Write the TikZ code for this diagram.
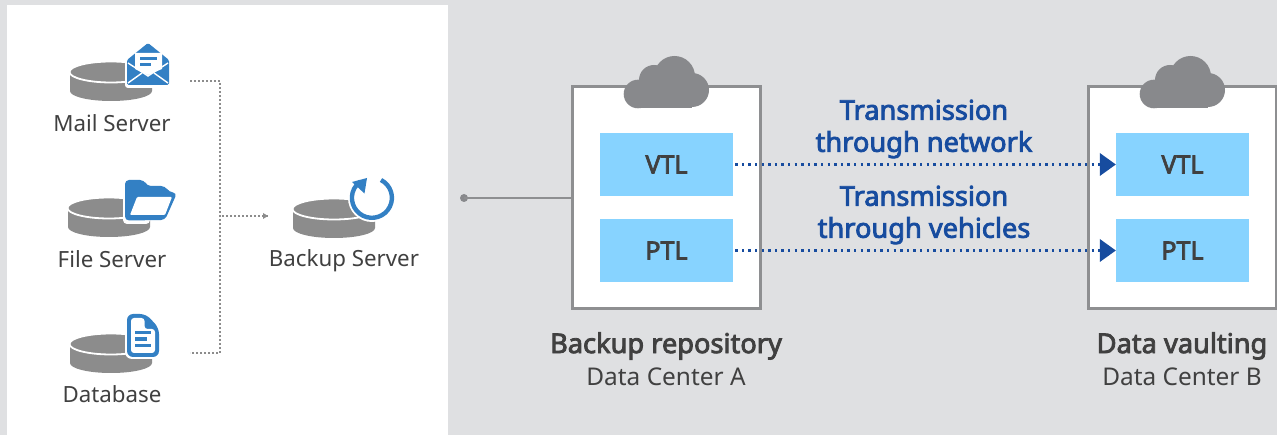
\documentclass[tikz,border=0pt]{standalone}
\usepackage{fontspec}
\setmainfont{Noto Sans}
\newfontfamily\heavy[FakeBold=3]{Noto Sans}
\definecolor{bggray}{HTML}{DFE0E2}
\definecolor{diskgray}{HTML}{8C8C8C}
\definecolor{cloudgray}{HTML}{88898C}
\definecolor{framegray}{HTML}{8E8F91}
\definecolor{iconblue}{HTML}{3380C4}
\definecolor{navy}{HTML}{174C9F}
\definecolor{skyb}{HTML}{87D3FF}
\definecolor{ink}{HTML}{404040}
\tikzset{
 lab/.style={font=\fontsize{22.3}{26}\selectfont,text=ink,inner sep=0pt,anchor=center},
 sub/.style={font=\fontsize{24.4}{26}\selectfont,text=ink,inner sep=0pt,anchor=center},
 head/.style={font=\fontsize{27.2}{30}\selectfont\heavy,text=ink,inner sep=0pt},
 tape/.style={fill=skyb,minimum width=133pt,minimum height=63pt,inner sep=0pt,font=\fontsize{25}{28}\selectfont\heavy,text=ink},
 frame/.style={draw=framegray,line width=3pt,fill=white,inner sep=0pt,outer sep=0pt,minimum width=188pt,minimum height=222pt,anchor=north west},
 blue/.style={font=\fontsize{27.2}{32}\selectfont\heavy,text=navy,inner sep=0pt,align=center},
 dotg/.style={draw=diskgray,line width=2pt,dash pattern=on 2pt off 2pt},
 dotb/.style={draw=navy,line width=2.4pt,dash pattern=on 2.4pt off 4.2pt}
}
\newcommand{\disk}[2]{%
 \fill[diskgray] (#1-41,#2) -- (#1-41,#2+19) arc[start angle=180,end angle=0,x radius=41,y radius=10] -- (#1+41,#2) -- cycle;
 \draw[white,line width=1.8pt,fill=diskgray] (#1,#2) ellipse[x radius=41.5,y radius=10.5];
}
\newcommand{\cloudicon}[1]{%
 \begin{scope}[shift={(#1,0)}]
 \fill[cloudgray] (638,94) circle[radius=14.3];
 \fill[cloudgray] (654,80) circle[radius=15];
 \fill[cloudgray] (674.5,76.5) circle[radius=20.5];
 \fill[cloudgray] (692,90) circle[radius=17];
 \fill[cloudgray] (638,90) rectangle (692,108);
 \end{scope}
}
\begin{document}
\begin{tikzpicture}[x=1pt,y=-1pt]
\useasboundingbox (0,0) rectangle (1277,435);
\fill[bggray] (0,0) rectangle (1277,435);
\fill[white] (7,5) rectangle (448,435);

% disks
\disk{111}{72}
\disk{109}{208}
\disk{111}{344}
\disk{334}{209}

% mail icon
\fill[white,rounded corners=3pt] (148,40.5) -- (171.5,59) -- (171.5,88) -- (125,88) -- (125,59) -- cycle;
\fill[iconblue,rounded corners=1.5pt] (148,43) -- (169,60) -- (169,85) -- (127,85) -- (127,60) -- cycle;
\fill[white] (135,53) -- (162,53) -- (162,69) -- (148,75) -- (135,69) -- cycle;
\fill[iconblue] (140,57) rectangle (157,60.5);
\fill[iconblue] (140,63) rectangle (151,66.5);
\draw[white,line width=1.4pt] (128,63) -- (148,76) -- (168,63);
\draw[white,line width=1.4pt] (128,83) -- (142,73) (168,83) -- (154,73);

% folder icon
\fill[white,rounded corners=4pt] (123,178) rectangle (150,224);
\fill[iconblue,rounded corners=4pt] (125,180) -- (144,180) -- (147,186) -- (165,186) -- (169,192) -- (177,193) -- (165,220) -- (125,220.5) -- cycle;
\fill[white,rounded corners=1pt] (137,197) -- (172,197) -- (165,215) -- (130,215) -- cycle;

% document icon
\fill[white,rounded corners=7pt] (125,312) rectangle (161,359);
\fill[iconblue,rounded corners=6pt] (127,314) -- (146,314) -- (159,328) -- (159,357) -- (127,357) -- cycle;
\fill[white,rounded corners=3pt] (131,318) -- (144.5,318) -- (144.5,329) -- (155,329) -- (155,353) -- (131,353) -- cycle;
\fill[iconblue] (135,331) rectangle (151,334.5);
\fill[iconblue] (135,337.5) rectangle (147,341);
\fill[iconblue] (135,344) rectangle (151,347.5);

% backup icon
\fill[white] (372,198) circle[radius=24];
\draw[iconblue,line width=4.4pt] (381,180) arc[start angle=-63,end angle=235,radius=20];
\fill[iconblue] (367,178) -- (352,182) -- (364.5,193.5) -- cycle;

% labels
\node[lab] (mail) at (112,123) {Mail Server};
\node[lab] (file) at (112,259) {File Server};
\node[lab] (db) at (112,394.5) {Database};
\node[lab] (backup) at (344,261) {Backup Server};

% dotted connectors
\coordinate (mailend) at (190,81);
\coordinate (dbend) at (190,353);
\coordinate (busm) at (220,81);
\coordinate (busd) at (220,353);
\coordinate (busa) at (222,216);
\coordinate (baktip) at (268,216);
\draw[dotg] (mailend) -- (busm) -- (busd) -- (dbend);
\draw[dotg] (busa) -- (baktip);
\fill[diskgray] (baktip) -- ++(-5,-3) -- ++(0,6) -- cycle;

% frames
\node[frame] (fa) at (572.5,86.5) {};
\node[frame] (fb) at (1088.5,86.5) {};
\cloudicon{0}
\cloudicon{516}

\node[tape] (va) at (666.5,164.5) {VTL};
\node[tape] (pa) at (666.5,250.5) {PTL};
\node[tape] (vb) at (1182.5,164.5) {VTL};
\node[tape] (pb) at (1182.5,250.5) {PTL};

% solid link
\coordinate (dotpt) at (464,198);
\fill[cloudgray] (dotpt) circle[radius=4];
\draw[framegray,line width=2pt] (dotpt) -- (fa.west |- dotpt);

% blue links
\draw[dotb] ([xshift=2pt]va.east) -- ([xshift=-14pt]vb.west);
\draw[dotb] ([xshift=2pt]pa.east) -- ([xshift=-14pt]pb.west);
\fill[navy] (vb.west) -- ++(-16,-11.5) -- ++(0,23) -- cycle;
\fill[navy] (pb.west) -- ++(-16,-11.5) -- ++(0,23) -- cycle;

\node[blue] (t1) at (924,129) {Transmission\\through network};
\node[blue] (t2) at (924,215) {Transmission\\through vehicles};

\node[head] (h1) at (666,346) {Backup repository};
\node[sub] (s1) at (666,377) {Data Center A};
\node[head] (h2) at (1182,346) {Data vaulting};
\node[sub] (s2) at (1182,377) {Data Center B};
\end{tikzpicture}
\end{document}
